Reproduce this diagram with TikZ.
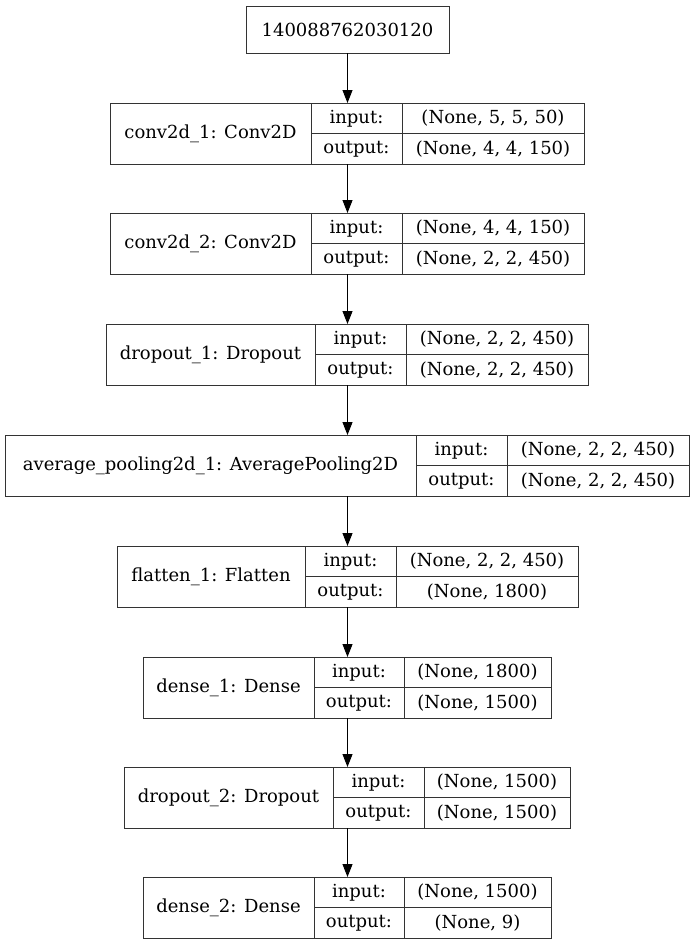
\documentclass[tikz,border=0pt]{standalone}
\usepackage{fontspec}
\setmainfont{DejaVu Serif}
\usepackage{tikz}
\usetikzlibrary{arrows.meta,positioning}
\tikzset{
  cellbox/.style={draw=black!80, line width=1pt, inner sep=0pt, outer sep=0pt,
                  font=\fontsize{18}{22}\selectfont},
  flow/.style={draw=black, line width=1pt, -{Triangle[length=13pt,width=10pt]}},
}
% #1 name, #2 top, #3 left, #4 first divider, #5 second divider, #6 right
\newcommand{\kerasLayer}[9]{%
  \node[cellbox, anchor=north west, minimum width={(#4-#3)*1pt}, minimum height=61pt]
    (#1) at (#3,#2) {#7};
  \node[cellbox, anchor=north west, minimum width={(#5-#4)*1pt}, minimum height=30.5pt]
    (#1-in) at (#1.north east) {input:};
  \node[cellbox, anchor=north west, minimum width={(#6-#5)*1pt}, minimum height=30.5pt]
    (#1-inval) at (#1-in.north east) {#8};
  \node[cellbox, anchor=north west, minimum width={(#5-#4)*1pt}, minimum height=30.5pt]
    (#1-out) at (#1-in.south west) {output:};
  \node[cellbox, anchor=north west, minimum width={(#6-#5)*1pt}, minimum height=30.5pt]
    (#1-outval) at (#1-out.north east) {#9};
}

\begin{document}
\begin{tikzpicture}[x=1pt, y=-1pt]
  \useasboundingbox (0,0) rectangle (695,945);

  \node[cellbox, anchor=north west, minimum width=203pt, minimum height=47pt]
    (inp) at (246,6) {140088762030120};

  \kerasLayer{conv1}{103}{110}{311}{402}{584}{conv2d\_1: Conv2D}{(None, 5, 5, 50)}{(None, 4, 4, 150)}
  \kerasLayer{conv2}{213}{110}{311}{402}{584}{conv2d\_2: Conv2D}{(None, 4, 4, 150)}{(None, 2, 2, 450)}
  \kerasLayer{drop1}{324}{106}{315}{406}{588}{dropout\_1: Dropout}{(None, 2, 2, 450)}{(None, 2, 2, 450)}
  \kerasLayer{avgpool}{435}{5}{416}{507}{689}{average\_pooling2d\_1: AveragePooling2D}{(None, 2, 2, 450)}{(None, 2, 2, 450)}
  \kerasLayer{flat}{546}{117}{305}{396}{578}{flatten\_1: Flatten}{(None, 2, 2, 450)}{(None, 1800)}
  \kerasLayer{dense1}{657}{143}{314}{404}{551}{dense\_1: Dense}{(None, 1800)}{(None, 1500)}
  \kerasLayer{drop2}{767}{124}{333}{424}{570}{dropout\_2: Dropout}{(None, 1500)}{(None, 1500)}
  \kerasLayer{dense2}{877}{143}{314}{404}{551}{dense\_2: Dense}{(None, 1500)}{(None, 9)}

  % connectors down the middle
  \draw[flow] (inp.south) -- (inp.south |- conv1.north);
  \draw[flow] (inp.south |- conv1.south) -- (inp.south |- conv2.north);
  \draw[flow] (inp.south |- conv2.south) -- (inp.south |- drop1.north);
  \draw[flow] (inp.south |- drop1.south) -- (inp.south |- avgpool.north);
  \draw[flow] (inp.south |- avgpool.south) -- (inp.south |- flat.north);
  \draw[flow] (inp.south |- flat.south) -- (inp.south |- dense1.north);
  \draw[flow] (inp.south |- dense1.south) -- (inp.south |- drop2.north);
  \draw[flow] (inp.south |- drop2.south) -- (inp.south |- dense2.north);

\end{tikzpicture}
\end{document}
